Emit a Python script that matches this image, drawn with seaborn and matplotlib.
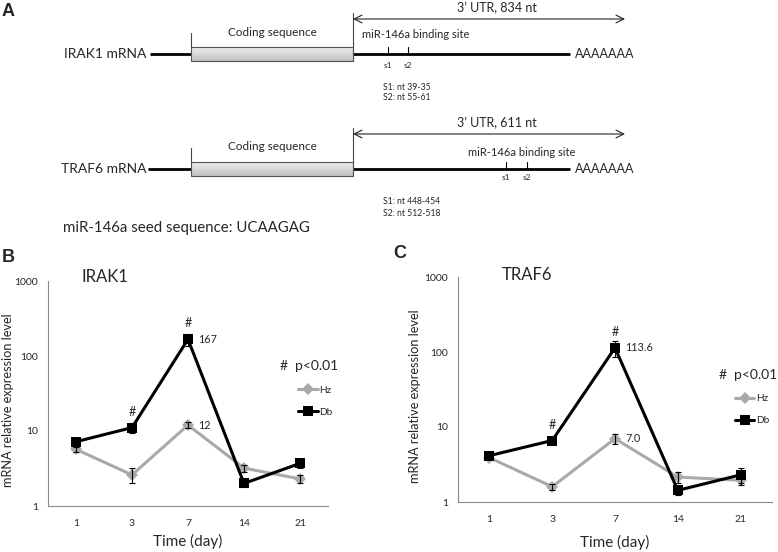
import numpy as np
import pandas as pd
import seaborn as sns
from matplotlib import pyplot as plt
from matplotlib.colors import LinearSegmentedColormap
from matplotlib.patches import Rectangle

# ---- data (panels B and C) ----
days = ["1", "3", "7", "14", "21"]
groups = ["Hz", "Db"]

irak1_hz = [5.7, 2.6, 12.0, 3.2, 2.3]
irak1_hz_err = [0.4, 0.6, 1.2, 0.35, 0.3]
irak1_db = [7.2, 11.1, 167.0, 2.0, 3.7]
irak1_db_err = [0.5, 1.6, 30.0, 0.2, 0.5]

traf6_hz = [3.9, 1.6, 7.0, 2.15, 1.95]
traf6_hz_err = [0.2, 0.15, 1.0, 0.35, 0.25]
traf6_db = [4.15, 6.6, 113.6, 1.43, 2.3]
traf6_db_err = [0.3, 0.4, 28.0, 0.2, 0.5]

sig_days = ["3", "7"]
peak_day = "7"
irak1_peak_labels = {"Db": "167", "Hz": "12"}
traf6_peak_labels = {"Db": "113.6", "Hz": "7.0"}

# ---- text of the schematic (panel A) ----
irak1_notes = ["S1: nt 39-35", "S2: nt 55-61"]
traf6_notes = ["S1: nt 448-454", "S2: nt 512-518"]
seed_text = "miR-146a seed sequence: UCAAGAG"

GREY = "#a9a9a9"
AXIS = "#8a8a8a"

sns.set_style("white")
plt.rcParams["font.family"] = ["Lato", "DejaVu Sans"]

fig = plt.figure(figsize=(7.78, 5.52), dpi=100)

# schematic drawn on a pixel-sized canvas
ax0 = fig.add_axes([0, 0, 1, 1], zorder=-1)
box_cmap = LinearSegmentedColormap.from_list("box", ["#eeeeee", "#c2c2c2"])


def draw_transcript(ax, y0, name, name_end, line_start, utr_text, site_xy, site_ha,
                    site_xs, site_lab_dy, notes):
    ax.text(name_end, y0, name, ha="right", va="center", fontsize=10)
    ax.plot([line_start, 191], [y0, y0], color="black", lw=2.0, solid_capstyle="butt")
    ax.plot([353, 570], [y0, y0], color="black", lw=2.0, solid_capstyle="butt")
    grad = np.linspace(0, 1, 32)[:, None]
    ax.imshow(grad, extent=(191, 353, y0 + 7, y0 - 7), cmap=box_cmap,
              aspect="auto", zorder=2)
    ax.add_patch(Rectangle((191, y0 - 7), 162, 14, fill=False, ec="#555555",
                           lw=0.8, zorder=3))
    ax.plot([191, 191], [y0 - 21, y0 - 7], color="#444444", lw=0.8)
    ax.plot([353, 353], [y0 - 41, y0 + 7], color="#444444", lw=0.8)
    ax.text(272, y0 - 22, "Coding sequence", ha="center", va="center", fontsize=8.5)
    ax.annotate("", xy=(625, y0 - 35), xytext=(353, y0 - 35),
                arrowprops=dict(arrowstyle="<->", lw=0.8, color="#222222",
                                mutation_scale=14, shrinkA=0, shrinkB=0))
    ax.text(497, y0 - 46, utr_text, ha="center", va="center", fontsize=9)
    ax.text(575, y0, "AAAAAAA", ha="left", va="center", fontsize=9)
    ax.text(site_xy[0], site_xy[1], "miR-146a binding site", ha=site_ha,
            va="center", fontsize=8)
    for i, sx in enumerate(site_xs):
        ax.plot([sx, sx], [y0 - 7, y0], color="black", lw=0.8)
        ax.text(sx, y0 + site_lab_dy, f"s{i + 1}", ha="center", va="center",
                fontsize=6)
    for i, note in enumerate(notes):
        ax.text(383, y0 + 33 + 11 * i, note, ha="left", va="center", fontsize=6.2)


draw_transcript(ax0, 54, "IRAK1 mRNA", 146, 150, "3\u2019 UTR, 834 nt",
                (362, 35), "left", [388, 408], 12, irak1_notes)
draw_transcript(ax0, 169, "TRAF6 mRNA", 147, 148, "3\u2019 UTR, 611 nt",
                (522, 153), "center", [506, 527], 8, traf6_notes)
ax0.text(63, 228, seed_text, ha="left", va="center", fontsize=10.8)

for letter, (lx, ly) in zip("ABC", [(8, 11), (8, 258), (400, 253)]):
    ax0.text(lx, ly, letter, ha="center", va="center", fontsize=13,
             fontweight="bold", family=["Liberation Sans", "DejaVu Sans"])

ax0.set_xlim(0, 778)
ax0.set_ylim(552, 0)
ax0.axis("off")


def make_df(hz, hz_err, db, db_err):
    return pd.DataFrame({
        "day": days * 2,
        "group": ["Hz"] * len(days) + ["Db"] * len(days),
        "value": hz + db,
        "err": hz_err + db_err,
    }).assign(pos=lambda d: d.day.map({x: i for i, x in enumerate(days)}))


def plot_panel(ax, df, title, title_xy, peak_labels, pval_xy, legend_xy,
               ylab_x, xlab_y):
    sns.lineplot(data=df, x="pos", y="value", hue="group", style="group",
                 hue_order=groups, style_order=groups,
                 palette={"Hz": GREY, "Db": "black"},
                 markers={"Hz": "D", "Db": "s"}, dashes=False,
                 linewidth=2.2, markersize=6, markeredgewidth=0, ax=ax)
    for line in ax.lines:
        if line.get_marker() == "s":
            line.set_markersize(7.5)
    for g in groups:
        sub = df[df.group == g]
        ax.errorbar(sub.pos, sub.value, yerr=sub.err, fmt="none", ecolor="black",
                    elinewidth=0.8, capsize=2, capthick=0.8, zorder=4)

    db = df[df.group == "Db"].set_index("day")
    for d in sig_days:
        ax.annotate("#", (db.loc[d, "pos"], db.loc[d, "value"]), xytext=(0, 11.5),
                    textcoords="offset points", ha="center", va="center",
                    fontsize=9)
    for g in groups:
        row = df[(df.group == g) & (df.day == peak_day)].iloc[0]
        ax.annotate(peak_labels[g], (row.pos, row.value), xytext=(7.5, 0),
                    textcoords="offset points", ha="left", va="center",
                    fontsize=7.8)

    ax.set_yscale("log")
    ax.set_ylim(1, 1000)
    ax.set_yticks([1, 10, 100, 1000])
    ax.set_yticklabels(["1", "10", "100", "1000"])
    ax.yaxis.set_minor_locator(plt.NullLocator())
    ax.set_xlim(-0.5, len(days) - 0.5)
    ax.set_xticks(np.arange(-0.5, len(days)), labels=[])
    ax.set_xticks(range(len(days)), labels=days, minor=True)
    ax.tick_params(axis="x", which="major", direction="out", length=5,
                   width=0.8, color=AXIS)
    ax.tick_params(axis="x", which="minor", length=0, pad=9, labelsize=7.5)
    ax.tick_params(axis="y", direction="out", length=4, width=0.8, color=AXIS,
                   pad=3, labelsize=7.5)
    sns.despine(ax=ax)
    for s in ["left", "bottom"]:
        ax.spines[s].set_color(AXIS)
        ax.spines[s].set_linewidth(0.8)

    ax.set_xlabel("Time (day)", fontsize=11)
    ax.set_ylabel("mRNA relative expression level", fontsize=9.2)
    ax.xaxis.set_label_coords(0.5, xlab_y)
    ax.yaxis.set_label_coords(ylab_x, 0.47)
    ax.text(title_xy[0], title_xy[1], title, transform=ax.transAxes, ha="left",
            va="center", fontsize=12)
    ax.text(pval_xy[0], pval_xy[1], "#  p<0.01", transform=ax.transAxes,
            ha="left", va="center", fontsize=10)

    handles, labels = ax.get_legend_handles_labels()
    for h in handles:
        h.set_linewidth(2.2)
        h.set_markeredgewidth(0)
        h.set_markersize(7.5 if h.get_marker() == "s" else 6)
    ax.legend(handles, labels, frameon=False, loc="center left",
              bbox_to_anchor=legend_xy, fontsize=7.2, handlelength=1.95,
              handletextpad=0.15, labelspacing=1.3)


ax_b = fig.add_axes([48 / 778, 1 - 506 / 552, 280 / 778, 225 / 552])
plot_panel(ax_b, make_df(irak1_hz, irak1_hz_err, irak1_db, irak1_db_err),
           "IRAK1", (0.121, 1.018), irak1_peak_labels, (0.829, 0.622),
           (0.861, 0.465), -0.121, -0.125)

ax_c = fig.add_axes([458 / 778, 1 - 502 / 552, 314 / 778, 225 / 552])
plot_panel(ax_c, make_df(traf6_hz, traf6_hz_err, traf6_db, traf6_db_err),
           "TRAF6", (0.14, 1.009), traf6_peak_labels, (0.832, 0.564),
           (0.853, 0.409), -0.118, -0.147)

fig.savefig("out.png", dpi=100)
